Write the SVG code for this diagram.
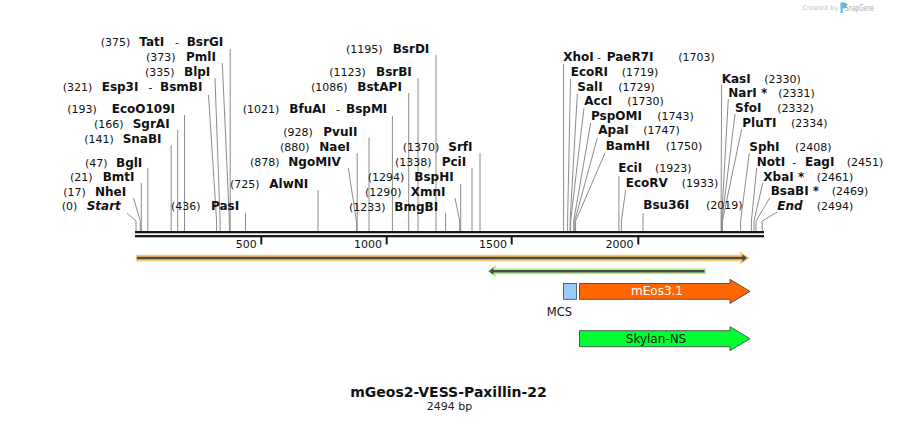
<svg xmlns="http://www.w3.org/2000/svg" width="899" height="423" viewBox="0 0 899 423">
<style>
text{font-family:"DejaVu Sans","Liberation Sans",sans-serif;fill:#111}
.n{font-size:11px}
.b{font-size:12px;font-weight:bold}
.i{font-style:italic}
.h{font-size:11px;font-weight:normal}
.cl polyline{fill:none;stroke:#8c8c8c;stroke-width:1}
.tk{fill:#1a1a1a}
</style>
<rect width="899" height="423" fill="#fff"/>

<!-- watermark -->
<g id="watermark">
<text x="802.5" y="10" style="font-size:6.5px;fill:#c4c4c4">Created by</text>
<path d="M840.5,2.5 h3.5 a3,3 0 0 1 0,6 h-1.2 v4.5 h-2.3 z" fill="#5cbde9"/>
<text x="845" y="10.5" textLength="29" lengthAdjust="spacingAndGlyphs" style="font-size:8.5px;fill:#a8a8a8">SnapGene</text>
</g>

<!-- ruler -->
<g id="ruler">
<rect x="135" y="231" width="629" height="2.3" class="tk"/>
<rect x="135" y="235" width="629" height="2.3" class="tk"/>
<rect x="260.3" y="237" width="2" height="7.5" class="tk"/>
<rect x="385.7" y="237" width="2" height="7.5" class="tk"/>
<rect x="510.7" y="237" width="2" height="7.5" class="tk"/>
<rect x="637.3" y="237" width="2" height="7.5" class="tk"/>
<text class="n" x="256.8" y="247.5" text-anchor="end">500</text>
<text class="n" x="382" y="247.5" text-anchor="end">1000</text>
<text class="n" x="507" y="247.5" text-anchor="end">1500</text>
<text class="n" x="633.5" y="247.5" text-anchor="end">2000</text>
</g>

<!-- connectors -->
<g id="connectors" class="cl">
<polyline points="127,213 136,221 136,231"/>
<polyline points="133.5,198 140.3,221 140.3,231"/>
<polyline points="141.3,183 141.3,231"/>
<polyline points="147.8,168 147.8,231"/>
<polyline points="171.2,145 171.2,231"/>
<polyline points="177.7,130 177.7,231"/>
<polyline points="184.5,115 184.5,231"/>
<polyline points="208.5,95 216.6,221 216.6,231"/>
<polyline points="215,78 220.1,221 220.1,231"/>
<polyline points="222.3,63 229.4,221 229.4,231"/>
<polyline points="230.2,49 230.2,231"/>
<polyline points="245.5,213 245.5,231"/>
<polyline points="318,190 318,231"/>
<polyline points="348.3,168 356.4,221 356.4,231"/>
<polyline points="357.2,153 357.2,231"/>
<polyline points="369,137.5 369,231"/>
<polyline points="392.4,116 392.4,231"/>
<polyline points="408.7,93 408.7,231"/>
<polyline points="418,78 418,231"/>
<polyline points="436,55 436,231"/>
<polyline points="445.6,213 445.6,231"/>
<polyline points="455,198 459.7,221 459.7,231"/>
<polyline points="460.7,184 460.7,231"/>
<polyline points="472,168 472,231"/>
<polyline points="480,153 480,231"/>
<polyline points="563.6,64 563.6,231"/>
<polyline points="570.5,79 567.6,221 567.6,231"/>
<polyline points="577.3,94 570.1,221 570.1,231"/>
<polyline points="584,108 570.6,221 570.6,231"/>
<polyline points="590.7,123 573.7,221 573.7,231"/>
<polyline points="597.3,138 574.7,221 574.7,231"/>
<polyline points="605,153 575.6,221 575.6,231"/>
<polyline points="618.9,176 618.9,231"/>
<polyline points="625.7,190 621.4,221 621.4,231"/>
<polyline points="643,213 643,231"/>
<polyline points="721.6,85 721.1,221 721.1,231"/>
<polyline points="728.3,99 721.5,221 721.5,231"/>
<polyline points="735,114 721.9,221 721.9,231"/>
<polyline points="741.7,129 722.4,221 722.4,231"/>
<polyline points="749.3,153 740.6,221 740.6,231"/>
<polyline points="756.7,168 751.4,221 751.4,231"/>
<polyline points="762.7,183 754,221 754,231"/>
<polyline points="770,197.5 756,221 756,231"/>
<polyline points="777.3,212 762.2,221 762.2,231"/>
</g>

<!-- left labels -->
<g id="site-Start"><text class="n" x="61.7" y="210">(0)</text><text class="b i" x="86.7" y="210">Start</text></g>
<g id="site-NheI"><text class="n" x="63.3" y="195.7">(17)</text><text class="b" x="95" y="195.7">NheI</text></g>
<g id="site-BmtI"><text class="n" x="70" y="180.7">(21)</text><text class="b" x="102.7" y="180.7">BmtI</text></g>
<g id="site-BglI"><text class="n" x="85" y="166.7">(47)</text><text class="b" x="116" y="166.7">BglI</text></g>
<g id="site-SnaBI"><text class="n" x="84.3" y="142.7">(141)</text><text class="b" x="122.7" y="142.7">SnaBI</text></g>
<g id="site-SgrAI"><text class="n" x="94" y="128.3">(166)</text><text class="b" x="132.7" y="128.3">SgrAI</text></g>
<g id="site-EcoO109I"><text class="n" x="67.3" y="113.3">(193)</text><text class="b" x="111.7" y="113.3">EcoO109I</text></g>
<g id="site-Esp3I"><text class="n" x="62.7" y="90.7">(321)</text><text class="b" x="101.7" y="90.7">Esp3I</text><text class="h" x="148.5" y="90.7">-</text><text class="b" x="160" y="90.7">BsmBI</text></g>
<g id="site-BlpI"><text class="n" x="145" y="75.7">(335)</text><text class="b" x="184" y="75.7">BlpI</text></g>
<g id="site-PmlI"><text class="n" x="146" y="60.7">(373)</text><text class="b" x="186" y="60.7">PmlI</text></g>
<g id="site-TatI"><text class="n" x="100.7" y="46">(375)</text><text class="b" x="139.3" y="46">TatI</text><text class="h" x="175" y="46">-</text><text class="b" x="186.7" y="46">BsrGI</text></g>
<g id="site-PasI"><text class="n" x="171" y="210">(436)</text><text class="b" x="211" y="210">PasI</text></g>
<g id="site-AlwNI"><text class="n" x="230" y="188.3">(725)</text><text class="b" x="269.3" y="188.3">AlwNI</text></g>
<g id="site-NgoMIV"><text class="n" x="250" y="166">(878)</text><text class="b" x="288.3" y="166">NgoMIV</text></g>
<g id="site-NaeI"><text class="n" x="280" y="150.7">(880)</text><text class="b" x="319.3" y="150.7">NaeI</text></g>
<g id="site-PvuII"><text class="n" x="283.3" y="136">(928)</text><text class="b" x="323.3" y="136">PvuII</text></g>
<g id="site-BfuAI"><text class="n" x="242.7" y="113.3">(1021)</text><text class="b" x="289.3" y="113.3">BfuAI</text><text class="h" x="336" y="113.3">-</text><text class="b" x="346" y="113.3">BspMI</text></g>
<g id="site-BstAPI"><text class="n" x="311" y="90.7">(1086)</text><text class="b" x="357.3" y="90.7">BstAPI</text></g>
<g id="site-BsrBI"><text class="n" x="329.3" y="75.7">(1123)</text><text class="b" x="376" y="75.7">BsrBI</text></g>
<g id="site-BsrDI"><text class="n" x="346" y="52.7">(1195)</text><text class="b" x="392.7" y="52.7">BsrDI</text></g>
<g id="site-BmgBI"><text class="n" x="349" y="210.7">(1233)</text><text class="b" x="394.3" y="210.7">BmgBI</text></g>
<g id="site-XmnI"><text class="n" x="365" y="195.7">(1290)</text><text class="b" x="410.7" y="195.7">XmnI</text></g>
<g id="site-BspHI"><text class="n" x="367.7" y="180.7">(1294)</text><text class="b" x="414.3" y="180.7">BspHI</text></g>
<g id="site-PciI"><text class="n" x="395" y="166">(1338)</text><text class="b" x="441.7" y="166">PciI</text></g>
<g id="site-SrfI"><text class="n" x="402.7" y="150.7">(1370)</text><text class="b" x="448.3" y="150.7">SrfI</text></g>

<!-- right labels -->
<g id="site-XhoI"><text class="b" x="563.3" y="60.7">XhoI</text><text class="h" x="597" y="60.7">-</text><text class="b" x="606.7" y="60.7">PaeR7I</text><text class="n" x="678.3" y="60.7">(1703)</text></g>
<g id="site-EcoRI"><text class="b" x="570.7" y="75.7">EcoRI</text><text class="n" x="621.7" y="75.7">(1719)</text></g>
<g id="site-SalI"><text class="b" x="577.3" y="90.7">SalI</text><text class="n" x="618.3" y="90.7">(1729)</text></g>
<g id="site-AccI"><text class="b" x="584.3" y="105">AccI</text><text class="n" x="627.3" y="105">(1730)</text></g>
<g id="site-PspOMI"><text class="b" x="591" y="120">PspOMI</text><text class="n" x="657.3" y="120">(1743)</text></g>
<g id="site-ApaI"><text class="b" x="598.3" y="134.3">ApaI</text><text class="n" x="643.3" y="134.3">(1747)</text></g>
<g id="site-BamHI"><text class="b" x="605.7" y="150">BamHI</text><text class="n" x="665.7" y="150">(1750)</text></g>
<g id="site-EciI"><text class="b" x="618.3" y="171.7">EciI</text><text class="n" x="655" y="171.7">(1923)</text></g>
<g id="site-EcoRV"><text class="b" x="625.7" y="187.3">EcoRV</text><text class="n" x="681.7" y="187.3">(1933)</text></g>
<g id="site-Bsu36I"><text class="b" x="643.3" y="209.3">Bsu36I</text><text class="n" x="706" y="209.3">(2019)</text></g>
<g id="site-KasI"><text class="b" x="721.7" y="82.7">KasI</text><text class="n" x="764.3" y="82.7">(2330)</text></g>
<g id="site-NarI"><text class="b" x="728.3" y="97.3">NarI *</text><text class="n" x="778.3" y="97.3">(2331)</text></g>
<g id="site-SfoI"><text class="b" x="735" y="112.3">SfoI</text><text class="n" x="777.3" y="112.3">(2332)</text></g>
<g id="site-PluTI"><text class="b" x="742.3" y="127.3">PluTI</text><text class="n" x="791" y="127.3">(2334)</text></g>
<g id="site-SphI"><text class="b" x="749.3" y="150.7">SphI</text><text class="n" x="795" y="150.7">(2408)</text></g>
<g id="site-NotI"><text class="b" x="756.7" y="165.7">NotI</text><text class="h" x="792.2" y="165.7">-</text><text class="b" x="805" y="165.7">EagI</text><text class="n" x="846.7" y="165.7">(2451)</text></g>
<g id="site-XbaI"><text class="b" x="763.3" y="180.7">XbaI *</text><text class="n" x="816.7" y="180.7">(2461)</text></g>
<g id="site-BsaBI"><text class="b" x="770.7" y="195">BsaBI *</text><text class="n" x="831.7" y="195">(2469)</text></g>
<g id="site-End"><text class="b i" x="777.3" y="210">End</text><text class="n" x="816.7" y="210">(2494)</text></g>

<!-- features -->
<g id="feature-orange">
<line x1="136" y1="258" x2="744" y2="258" stroke="#fcc76f" stroke-width="6.5"/>
<polygon points="740,251.5 749.5,258 740,264.5" fill="#fcc76f"/>
<line x1="137" y1="258" x2="743" y2="258" stroke="#4a4a4a" stroke-width="2.3"/>
<polygon points="742.3,254.2 747,258 742.3,261.8" fill="#4a4a4a"/>
</g>
<g id="feature-green">
<line x1="493" y1="271.3" x2="706" y2="271.3" stroke="#b6f386" stroke-width="6"/>
<polygon points="496,265 487.3,271.3 496,277.6" fill="#b6f386"/>
<line x1="492" y1="271.3" x2="704.5" y2="271.3" stroke="#4a4a4a" stroke-width="2.4"/>
<polygon points="493.5,267.6 489,271.3 493.5,275" fill="#4a4a4a"/>
</g>
<g id="feature-MCS">
<rect x="563.5" y="283.5" width="13" height="15.8" fill="#9ccbfa" stroke="#555" stroke-width="0.9"/>
<text x="559.5" y="316" text-anchor="middle" style="font-size:11.5px">MCS</text>
</g>
<g id="feature-mEos">
<polygon points="579.5,283.5 730,283.5 730,279.3 750,291.4 730,303.5 730,299.3 579.5,299.3" fill="#ff6600" stroke="#4a4a4a" stroke-width="0.9"/>
<text x="657" y="295.3" text-anchor="middle" style="font-size:12px;fill:#fff">mEos3.1</text>
</g>
<g id="feature-Skylan">
<polygon points="579.5,330.7 730,330.7 730,326.7 750,338.7 730,350.7 730,346.7 579.5,346.7" fill="#00ff33" stroke="#4a4a4a" stroke-width="0.9"/>
<text x="656" y="342.5" text-anchor="middle" style="font-size:12px;fill:#111">Skylan-NS</text>
</g>

<!-- title -->
<g id="title">
<text x="448.5" y="396.7" text-anchor="middle" style="font-size:14px;font-weight:bold">mGeos2-VESS-Paxillin-22</text>
<text x="449.5" y="410.3" text-anchor="middle" style="font-size:11px;fill:#222">2494 bp</text>
</g>
</svg>
